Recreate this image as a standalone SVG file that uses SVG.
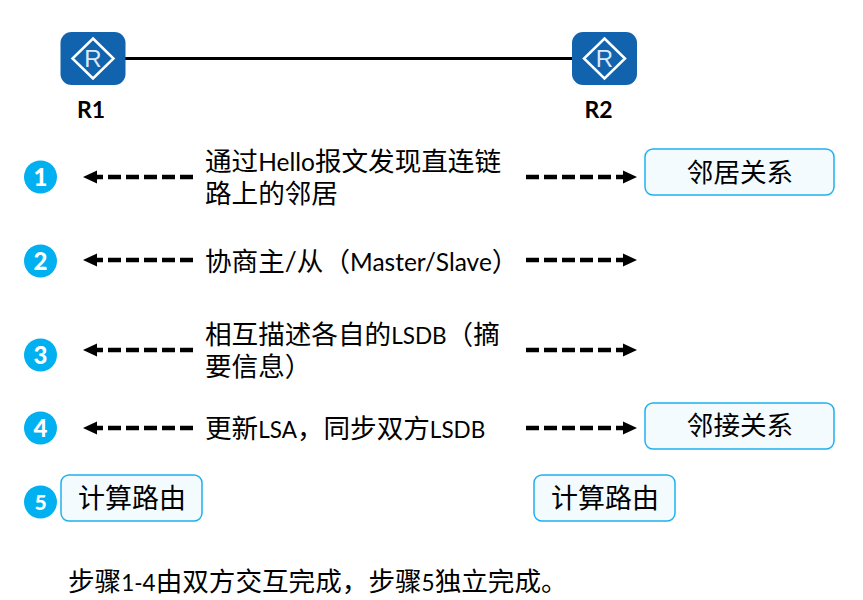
<svg xmlns="http://www.w3.org/2000/svg" width="863" height="600" viewBox="0 0 863 600">
<defs>
<marker id="ah" markerUnits="userSpaceOnUse" markerWidth="15" markerHeight="15" refX="7" refY="7.500" orient="auto-start-reverse"><path d="M0 1 L14 7.500 L0 14 Z" fill="#000"/></marker>
<g id="rt"><rect x="-32.500" y="-26.500" width="65" height="53" rx="11" fill="#1163ad"/><path d="M0 -20 L20.500 0 L0 20 L-20.500 0 Z" fill="none" stroke="#fff" stroke-width="2.500"/><text x="0" y="8.500" font-size="24" fill="#dbe9f6" text-anchor="middle" class="t">R</text></g>
</defs>
<style>
.t{font-family:"Liberation Sans","Noto Sans CJK SC",sans-serif}
.lb{font-family:"Lato","Noto Sans CJK SC",sans-serif;font-size:26.600px;fill:#000}
.lat{font-size:22.500px}
.lat2{font-size:24.500px}
.rn{font-family:"Lato",sans-serif;font-size:23px;font-weight:700;fill:#000;text-anchor:middle}
.num{font-family:"Lato",sans-serif;font-size:24px;font-weight:900;fill:#fff;text-anchor:middle}
.c{fill:#00b0f0}
.b{fill:#f3fbff;stroke:#1fb1ee;stroke-width:1.500}
.d{stroke:#000;stroke-width:4.500;stroke-dasharray:13 5;fill:none}
.bt{font-family:"Noto Sans CJK SC",sans-serif;font-size:26.600px;fill:#000;text-anchor:middle}
.bt2{font-size:27px}
</style>
<g id="connectors">
<line x1="124" y1="58.500" x2="573" y2="58.500" stroke="#000" stroke-width="3"/>
<line class="d" x1="193" y1="177" x2="90" y2="177" marker-end="url(#ah)"/>
<line class="d" x1="526" y1="177" x2="630" y2="177" marker-end="url(#ah)"/>
<line class="d" x1="193" y1="260" x2="90" y2="260" marker-end="url(#ah)"/>
<line class="d" x1="526" y1="260" x2="630" y2="260" marker-end="url(#ah)"/>
<line class="d" x1="193" y1="350" x2="90" y2="350" marker-end="url(#ah)"/>
<line class="d" x1="526" y1="350" x2="630" y2="350" marker-end="url(#ah)"/>
<line class="d" x1="193" y1="428" x2="90" y2="428" marker-end="url(#ah)"/>
<line class="d" x1="526" y1="428" x2="630" y2="428" marker-end="url(#ah)"/>
</g>
<g id="R1"><use href="#rt" x="93" y="58.500"/><text class="rn" x="91" y="118">R1</text></g>
<g id="R2"><use href="#rt" x="604.500" y="58.500"/><text class="rn" x="598.500" y="118">R2</text></g>
<g id="s1"><circle class="c" cx="40.500" cy="177" r="16.500"/><text class="num" x="40.500" y="186">1</text>
<text class="lb" x="205" y="171">通过<tspan class="lat2">Hello</tspan>报文发现直连链</text><text class="lb" x="205" y="203">路上的邻居</text></g>
<g id="s2"><circle class="c" cx="40.500" cy="261" r="16.500"/><text class="num" x="40.500" y="270">2</text>
<text class="lb" x="205" y="271">协商主/从（<tspan class="lat2">Master/Slave</tspan>）</text></g>
<g id="s3"><circle class="c" cx="40.500" cy="355" r="16.500"/><text class="num" x="40.500" y="364">3</text>
<text class="lb" x="205" y="344">相互描述各自的<tspan class="lat">LSDB</tspan>（摘</text><text class="lb" x="205" y="376">要信息）</text></g>
<g id="s4"><circle class="c" cx="40.500" cy="428" r="16.500"/><text class="num" x="40.500" y="437">4</text>
<text class="lb" x="205" y="438">更新<tspan class="lat">LSA</tspan>，同步双方<tspan class="lat">LSDB</tspan></text></g>
<g id="s5"><circle class="c" cx="40.500" cy="502" r="16.500"/><text class="num" x="40.500" y="510" style="font-size:21px">5</text></g>
<g id="n-lj1"><rect class="b" x="645" y="149" width="189" height="46" rx="8"/><text class="bt" x="740" y="182">邻居关系</text></g>
<g id="n-lj2"><rect class="b" x="645" y="403" width="189" height="46" rx="8"/><text class="bt" x="740" y="435">邻接关系</text></g>
<g id="n-c1"><rect class="b" x="61" y="475" width="141" height="46" rx="8"/><text class="bt bt2" x="132" y="508">计算路由</text></g>
<g id="n-c2"><rect class="b" x="534" y="475" width="141" height="46" rx="8"/><text class="bt bt2" x="605" y="508">计算路由</text></g>
<text class="lb" x="68" y="591">步骤<tspan class="lat">1-4</tspan>由双方交互完成，步骤<tspan class="lat">5</tspan>独立完成。</text>
</svg>
